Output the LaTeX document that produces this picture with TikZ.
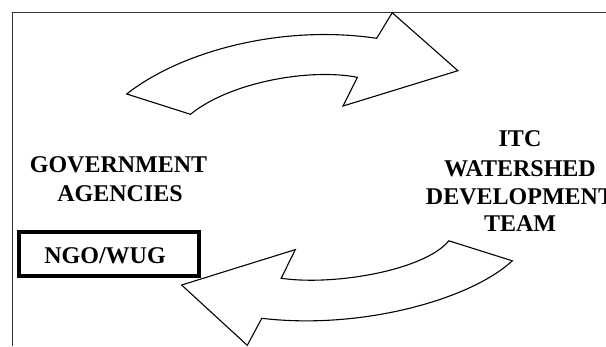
\documentclass[tikz,border=0pt]{standalone}
\usepackage{fontspec}
\setmainfont{Liberation Serif}
\begin{document}
\begin{tikzpicture}[x=1pt,y=-1pt,
  arrowshape/.style={draw=black,fill=white,line width=1.1pt,line join=miter},
  frameline/.style={draw=black!80,line width=1pt},
  lbl/.style={font=\fontsize{24}{28}\selectfont\bfseries,inner sep=0pt,anchor=base},
  ngobox/.style={draw=black,line width=4pt,minimum width=179.5pt,minimum height=44pt,inner sep=0pt}]
\useasboundingbox (0,0) rectangle (606,346);
\begin{scope}
\clip (0,0) rectangle (606,346);
% frame
\coordinate (f1) at (12,346);
\coordinate (f2) at (12,12.3);
\coordinate (f3) at (606,12.3);
\draw[frameline] (f1) -- (f2) -- (f3);
% upper arrow
\coordinate (A) at (126.7,94);
\coordinate (B) at (376.7,38.3);
\coordinate (C) at (392.2,12.7);
\coordinate (D) at (457.9,70.7);
\coordinate (E) at (343.1,106);
\coordinate (F) at (357.4,77.3);
\coordinate (G) at (190.5,114.3);
\path[arrowshape] (A) .. controls (180,52) and (280,24) .. (B) -- (C) -- (D) -- (E) -- (F)
  .. controls (310,68) and (230,82) .. (G) -- cycle;
% lower arrow
\coordinate (H) at (512.3,260.8);
\coordinate (I) at (448.8,240.8);
\coordinate (J) at (281.2,278.3);
\coordinate (K) at (295.3,249.6);
\coordinate (L) at (181.6,285);
\coordinate (M) at (247.3,345.3);
\coordinate (N) at (261.8,318.3);
\path[arrowshape] (H) -- (I) .. controls (425,270) and (335,286) .. (J) -- (K) -- (L) -- (M) -- (N)
  .. controls (360,330) and (470,300) .. (H) -- cycle;
\end{scope}
% labels
\node[lbl] (gov1) at (118.5,172) {GOVERNMENT};
\node[lbl] (gov2) at (120,201) {AGENCIES};
\node[ngobox] (ngo) at (109.2,254.1) {};
\node[lbl] (ngotxt) at (105,263.3) {NGO/WUG};
\node[lbl] (itc1) at (520,146.5) {ITC};
\node[lbl] (itc2) at (520,176.5) {WATERSHED};
\node[lbl] (itc3) at (520,204) {DEVELOPMENT};
\node[lbl] (itc4) at (520,231.5) {TEAM};
\end{tikzpicture}
\end{document}
